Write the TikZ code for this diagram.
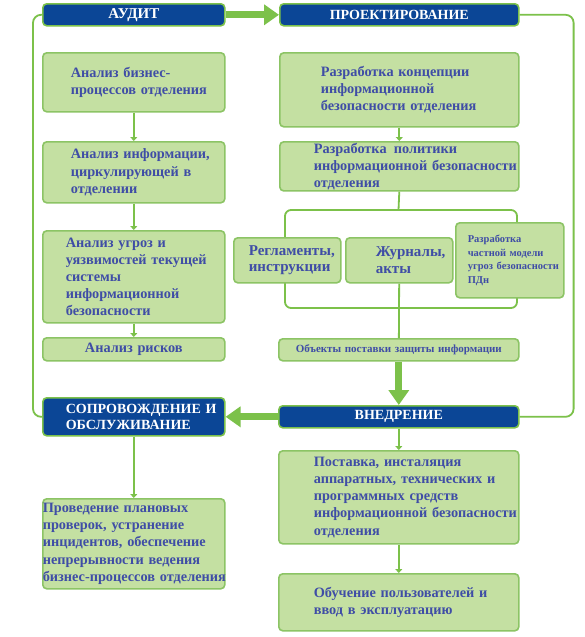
\documentclass[tikz,border=0pt]{standalone}
\usepackage{fontspec}
\setmainfont{Liberation Serif}
\usetikzlibrary{arrows.meta}
\definecolor{boxfill}{HTML}{C4E0A2}
\definecolor{boxline}{HTML}{8CC465}
\definecolor{linkgreen}{HTML}{7CC14A}
\definecolor{stageblue}{HTML}{0B4696}
\definecolor{textblue}{HTML}{3F4DA6}

\begin{document}
\begin{tikzpicture}[x=1pt, y=-1pt,
        stage/.style={rectangle, rounded corners=4pt, draw=linkgreen, line width=1.6pt, fill=stageblue, text=white, anchor=north west, inner xsep=4pt, inner ysep=1pt, font=\bfseries\fontsize{14}{16}\selectfont},
        task/.style={rectangle, rounded corners=4pt, draw=boxline, line width=1.6pt, fill=boxfill, text=textblue, align=left, anchor=north west, inner xsep=4pt, inner ysep=1pt, font=\bfseries\fontsize{14.3}{17.2}\selectfont},
        lskip/.style={execute at begin node={\leftskip=#1pt\rightskip=0pt plus 1fil minus 40pt\relax}},
        link/.style={draw=linkgreen, line width=1.8pt},
        linkarrow/.style={link, -{Triangle[length=4pt, width=7pt]}},
        flow/.style={draw=linkgreen, line width=7pt, -{Triangle[length=15pt, width=20pt]}}
    ]
        \fill[white] (0,0) rectangle (585,637);
        \useasboundingbox (0,0) rectangle (585,637);

        % audit column
        \node[stage, minimum width=182, minimum height=22, font=\bfseries\fontsize{15}{17}\selectfont] (aud) at (42,3) {АУДИТ};
        \node[task, text width=174, minimum height=59, lskip=24] (biz) at (42,52) {Анализ бизнес-\\процессов отделения};
        \node[task, text width=174, minimum height=61, lskip=24] (inf) at (42,141) {Анализ информации,\\циркулирующей в\\отделении};
        \node[task, text width=174, minimum height=92, lskip=19] (ugr) at (42,230) {Анализ угроз и\\уязвимостей текущей\\системы\\информационной\\безопасности};
        \node[task, text width=174, minimum height=23, align=center] (risk) at (42,337) {Анализ рисков};

        % design column
        \node[stage, minimum width=239, minimum height=22] (proj) at (279,3) {ПРОЕКТИРОВАНИЕ};
        \node[task, text width=231, minimum height=74, lskip=37] (konc) at (279,52) {Разработка концепции\\информационной\\безопасности отделения};
        \node[task, text width=231, minimum height=46, lskip=30] (pol) at (279,141) {Разработка\enspace политики\\информационной безопасности\\отделения};

        \coordinate (brtop) at (398.5,210);
        \draw[link, rounded corners=6pt] (285,210) rectangle (517,308);

        \node[task, text width=99, minimum height=45, lskip=11, font=\bfseries\fontsize{15}{16.5}\selectfont] (reg) at (233,237) {Регламенты,\\инструкции};
        \node[task, text width=99, minimum height=45, lskip=26, font=\bfseries\fontsize{15}{16.5}\selectfont] (zhur) at (345,237) {Журналы,\\акты};
        \node[task, text width=100, minimum height=75, lskip=8, font=\bfseries\fontsize{10.5}{13.8}\selectfont] (pdn) at (455,222) {Разработка\\частной модели\\угроз безопасности\\ПДн};
        \node[task, text width=232, minimum height=22, align=center, font=\bfseries\fontsize{11}{13}\selectfont] (obj) at (278,338) {Объекты поставки защиты информации};

        % implementation and support
        \node[stage, minimum width=240, minimum height=22] (vn) at (278,405) {ВНЕДРЕНИЕ};
        \node[task, text width=232, minimum height=93, lskip=31] (post) at (278,450) {Поставка, инсталяция\\аппаратных, технических и\\программных средств\\информационной безопасности\\отделения};
        \node[task, text width=232, minimum height=57, lskip=31] (obuch) at (278,573) {Обучение пользователей и\\ввод в эксплуатацию};

        \node[stage, text width=174, minimum height=38, align=left, lskip=19] (sop) at (42,397) {СОПРОВОЖДЕНИЕ И\\ОБСЛУЖИВАНИЕ};
        \node[task, text width=182, inner xsep=0pt, minimum height=90, lskip=0] (prov) at (42,498) {Проведение плановых\\проверок, устранение\\инцидентов, обеспечение\\непрерывности ведения\\бизнес-процессов отделения};

        % connectors
        \draw[flow] (aud) -- (proj);
        \draw[linkarrow] (biz) -- (inf);
        \draw[linkarrow] (inf) -- (ugr);
        \draw[linkarrow] (ugr) -- (risk);
        \draw[linkarrow] (konc) -- (pol);
        \draw[link] (pol.south) -- (brtop);
        \draw[link] (zhur) -- (obj);
        \draw[flow] (obj) -- (vn);
        \draw[flow] (vn) -- (sop);
        \draw[linkarrow] (vn) -- (post);
        \draw[linkarrow] (post) -- (obuch);
        \draw[linkarrow] (sop) -- (prov);

        \draw[link, rounded corners=8pt] (aud.west) -- ++(-9,0) |- (sop.west);
        \draw[link, rounded corners=8pt] (proj.east) -- ++(54,0) |- (vn.east);
    \end{tikzpicture}
\end{document}
